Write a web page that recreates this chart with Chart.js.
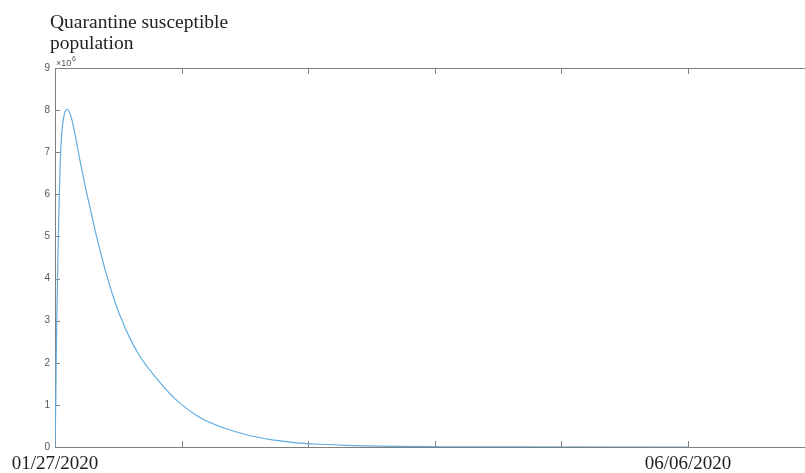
<!DOCTYPE html>
<html>
<head>
<meta charset="utf-8">
<script src="https://cdn.jsdelivr.net/npm/chart.js@4.4.0/dist/chart.umd.min.js"></script>
<style>
  html, body { margin: 0; padding: 0; background: #fff; }
  #wrap { width: 805px; height: 473px; position: relative; }
</style>
</head>
<body>
<div id="wrap"><canvas id="qsChart"></canvas></div>
<script>
// Quarantine susceptible population (values in units of 10^6)
const days = [0, 0.15, 0.3, 0.45, 0.6, 0.75, 1.03, 1.39, 1.92, 2.6, 3.3, 4.14, 5.17, 6.2, 7.24, 8.6, 10.35, 12.4, 14.5, 17.2, 20.7, 24.8, 30, 35, 40, 45, 50, 55, 60, 70, 80, 95, 131];
const susceptible = [0, 1.0, 2.5, 3.5, 4.5, 5.3, 6.6, 7.43, 7.9, 8.02, 7.85, 7.43, 6.8, 6.22, 5.69, 5.0, 4.22, 3.45, 2.83, 2.22, 1.67, 1.15, 0.7, 0.45, 0.28, 0.17, 0.1, 0.065, 0.04, 0.015, 0.006, 0.002, 0];

const yTicks = [0, 1, 2, 3, 4, 5, 6, 7, 8, 9];
const xTicks = [0, 26.2, 52.4, 78.6, 104.8, 131];
const xTickLabels = ['01/27/2020', '', '', '', '', '06/06/2020'];
const titleLines = ['Quarantine susceptible', 'population'];

const axisColor = '#7f7f7f';
const serif = '"Liberation Serif", "Times New Roman", serif';

// matlab-ish box axes with inward ticks
const axesPlugin = {
  id: 'matlabAxes',
  beforeDatasetsDraw(chart) {
    const { ctx, chartArea: a, scales: { x, y } } = chart;
    ctx.save();
    ctx.strokeStyle = axisColor;
    ctx.lineWidth = 1;
    ctx.beginPath();
    ctx.moveTo(a.left + 0.5, a.top + 0.5);
    ctx.lineTo(a.left + 0.5, a.bottom + 0.5);
    ctx.lineTo(a.right, a.bottom + 0.5);
    ctx.moveTo(a.left + 0.5, a.top + 0.5);
    ctx.lineTo(a.right, a.top + 0.5);
    yTicks.forEach(v => {
      const py = Math.round(y.getPixelForValue(v)) + 0.5;
      ctx.moveTo(a.left, py);
      ctx.lineTo(a.left + 5, py);
    });
    xTicks.forEach(v => {
      const px = Math.round(x.getPixelForValue(v)) + 0.5;
      ctx.moveTo(px, a.bottom);
      ctx.lineTo(px, a.bottom - 6);
      ctx.moveTo(px, a.top);
      ctx.lineTo(px, a.top + 6);
    });
    ctx.stroke();

    // y tick labels
    ctx.fillStyle = '#555';
    ctx.font = '10px "Liberation Sans", Arial, sans-serif';
    ctx.textAlign = 'right';
    ctx.textBaseline = 'middle';
    yTicks.forEach(v => ctx.fillText(String(v), a.left - 5, y.getPixelForValue(v)));

    // exponent
    ctx.textAlign = 'left';
    ctx.textBaseline = 'alphabetic';
    ctx.font = '9px "Liberation Sans", Arial, sans-serif';
    ctx.fillText('\u00d710', a.left + 1, a.top - 2);
    ctx.font = '7px "Liberation Sans", Arial, sans-serif';
    ctx.fillText('6', a.left + 17, a.top - 7);

    // x tick labels
    ctx.fillStyle = '#222';
    ctx.font = '19px ' + serif;
    ctx.textAlign = 'center';
    xTicks.forEach((v, i) => {
      if (xTickLabels[i]) ctx.fillText(xTickLabels[i], x.getPixelForValue(v), 469);
    });

    // title
    ctx.textAlign = 'left';
    ctx.font = '19.5px ' + serif;
    titleLines.forEach((t, i) => ctx.fillText(t, 50, 28 + i * 21));
    ctx.restore();
  }
};

new Chart(document.getElementById('qsChart'), {
  type: 'line',
  data: {
    datasets: [{
      data: days.map((d, i) => ({ x: d, y: susceptible[i] })),
      borderColor: '#62ace0',
      borderWidth: 1.2,
      pointRadius: 0,
      fill: false,
      cubicInterpolationMode: 'monotone'
    }]
  },
  options: {
    responsive: true,
    maintainAspectRatio: false,
    animation: false,
    layout: { padding: { left: 55, top: 68, right: 0, bottom: 26 } },
    plugins: { legend: { display: false }, tooltip: { enabled: false } },
    scales: {
      x: { type: 'linear', min: 0, max: 155.2, display: false },
      y: { min: 0, max: 9, display: false }
    }
  },
  plugins: [axesPlugin]
});
</script>
</body>
</html>
